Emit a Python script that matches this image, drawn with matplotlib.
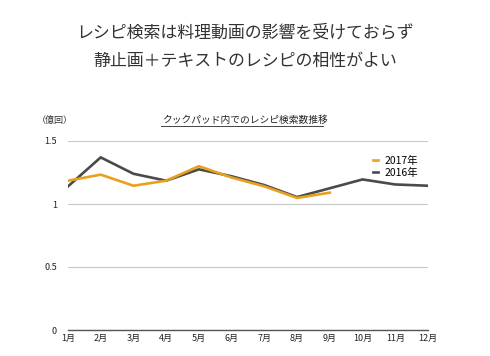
import matplotlib.pyplot as plt

plt.rcParams['font.family'] = ['Noto Sans CJK JP', 'DejaVu Sans']

# データ
months = ['1月', '2月', '3月', '4月', '5月', '6月', '7月', '8月', '9月', '10月', '11月', '12月']
y2016 = [1.14, 1.37, 1.24, 1.185, 1.275, 1.22, 1.15, 1.055, 1.125, 1.195, 1.155, 1.145]
y2017 = [1.185, 1.233, 1.145, 1.185, 1.30, 1.21, 1.14, 1.048, 1.09]
yticks = [0, 0.5, 1, 1.5]
ytick_labels = ['0', '0.5', '1', '1.5']

W, H = 490, 356
fig = plt.figure(figsize=(W / 100, H / 100), dpi=100)
fig.patch.set_facecolor('white')

# タイトル
fig.text(0.5, 1 - 33 / H, 'レシピ検索は料理動画の影響を受けておらず', ha='center', va='center',
         fontsize=12.2, color='#333333')
fig.text(0.5, 1 - 61 / H, '静止画＋テキストのレシピの相性がよい', ha='center', va='center',
         fontsize=12.2, color='#333333')

ax = fig.add_axes([68 / W, 26 / H, (428 - 68) / W, (330 - 141) / H])
x = list(range(len(months)))
ax.plot(x[:len(y2017)], y2017, color='#E8A01E', lw=1.9, label='2017年', zorder=3)
ax.plot(x, y2016, color='#4A4A4A', lw=1.9, label='2016年', zorder=2)

ax.set_xlim(0, 11)
ax.set_ylim(0, 1.5)
ax.set_yticks(yticks)
ax.set_yticklabels(ytick_labels)
ax.set_xticks(x)
ax.set_xticklabels(months)
ax.tick_params(axis='both', length=0, labelsize=6.5, colors='#222222')
ax.tick_params(axis='y', pad=8)
ax.tick_params(axis='x', pad=3)
ax.grid(axis='y', color='#c8c8c8', lw=0.8)
ax.set_axisbelow(True)
for s in ['top', 'right', 'left']:
    ax.spines[s].set_visible(False)
ax.spines['bottom'].set_color('#555555')
ax.spines['bottom'].set_linewidth(1.0)

leg = ax.legend(loc='upper right', bbox_to_anchor=(1.0, 0.97), frameon=False, fontsize=7.5,
                handlelength=0.5, handletextpad=0.7, labelspacing=0.15)

# サブタイトル
fig.text(245 / W, 1 - 120 / H, 'クックパッド内でのレシピ検索数推移', ha='center', va='center',
         fontsize=7, color='#222222')
fig.add_artist(plt.Line2D([161 / W, 323 / W], [1 - 126 / H, 1 - 126 / H], color='#444444', lw=0.7))
fig.text(55 / W, 1 - 120 / H, '（億回）', ha='center', va='center', fontsize=6.5, color='#333333')

fig.savefig('out.png', dpi=100)
